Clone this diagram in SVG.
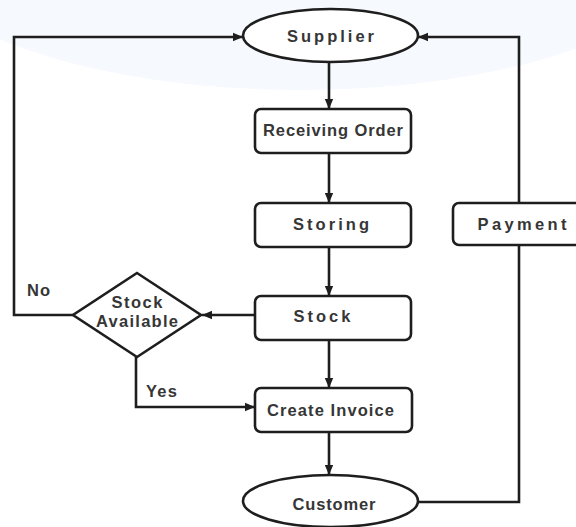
<svg xmlns="http://www.w3.org/2000/svg" width="576" height="527" viewBox="0 0 576 527">
  <style>
    .shape { fill: #ffffff; stroke: #1e1e1e; stroke-width: 2.6; }
    .lbl { font-family: "Liberation Sans", Arial, sans-serif; font-weight: bold; font-size: 16.5px; fill: #363636; text-anchor: middle; }
    .edge { fill: none; stroke: #1e1e1e; stroke-width: 2.6; }
  </style>
  <defs>
    <marker id="arr" markerUnits="userSpaceOnUse" markerWidth="10" markerHeight="10" viewBox="0 0 10 10" refX="10" refY="5" orient="auto">
      <path d="M0,0.8 L10,5 L0,9.2 Z" fill="#1e1e1e"/>
    </marker>
  </defs>
  <rect x="0" y="0" width="576" height="527" fill="#ffffff"/>
  <ellipse cx="300" cy="-60" rx="400" ry="150" fill="#f6f9fd"/>

  <g id="connectors">
    <line class="edge" x1="329" y1="62" x2="329" y2="109" marker-end="url(#arr)"/>
    <line class="edge" x1="329" y1="153" x2="329" y2="203" marker-end="url(#arr)"/>
    <line class="edge" x1="329" y1="247" x2="329" y2="296" marker-end="url(#arr)"/>
    <line class="edge" x1="329" y1="340" x2="329" y2="388" marker-end="url(#arr)"/>
    <line class="edge" x1="329" y1="432" x2="329" y2="475" marker-end="url(#arr)"/>
    <line class="edge" x1="255" y1="315" x2="202" y2="315" marker-end="url(#arr)"/>
    <polyline class="edge" points="73,315 14,315 14,37 243,37" marker-end="url(#arr)"/>
    <polyline class="edge" points="136,357 136,407 255,407" marker-end="url(#arr)"/>
    <polyline class="edge" points="418,502 519,502 519,37 418,37" marker-end="url(#arr)"/>
  </g>

  <g id="supplier">
    <ellipse class="shape" cx="330.5" cy="35.5" rx="87.5" ry="26.5"/>
    <text class="lbl" x="330.5" y="41.5" textLength="87" lengthAdjust="spacing">Supplier</text>
  </g>
  <g id="receiving-order">
    <rect class="shape" x="255" y="109" width="156" height="44" rx="6"/>
    <text class="lbl" x="333" y="136" textLength="140" lengthAdjust="spacing">Receiving Order</text>
  </g>
  <g id="storing">
    <rect class="shape" x="255" y="203" width="156" height="44" rx="6"/>
    <text class="lbl" x="331" y="229.5" textLength="76" lengthAdjust="spacing">Storing</text>
  </g>
  <g id="payment">
    <rect class="shape" x="453" y="203" width="140" height="42" rx="6"/>
    <text class="lbl" x="522" y="229.5" textLength="89" lengthAdjust="spacing">Payment</text>
  </g>
  <g id="stock">
    <rect class="shape" x="255" y="296" width="156" height="44" rx="6"/>
    <text class="lbl" x="322" y="322" textLength="57" lengthAdjust="spacing">Stock</text>
  </g>
  <g id="stock-available">
    <polygon class="shape" points="137,273 201,315 137,357 73,315"/>
    <text class="lbl" x="137" y="307.5" textLength="51" lengthAdjust="spacing">Stock</text>
    <text class="lbl" x="137" y="327" textLength="82" lengthAdjust="spacing">Available</text>
  </g>
  <g id="create-invoice">
    <rect class="shape" x="255" y="388" width="157" height="44" rx="6"/>
    <text class="lbl" x="330.5" y="415.5" textLength="127" lengthAdjust="spacing">Create Invoice</text>
  </g>
  <g id="customer">
    <ellipse class="shape" cx="330.5" cy="501" rx="87.5" ry="26"/>
    <text class="lbl" x="334" y="510" textLength="83" lengthAdjust="spacing">Customer</text>
  </g>
  <g id="edge-labels">
    <text class="lbl" x="38.5" y="295.5" textLength="23" lengthAdjust="spacing">No</text>
    <text class="lbl" x="161.5" y="397" textLength="31" lengthAdjust="spacing">Yes</text>
  </g>
</svg>
